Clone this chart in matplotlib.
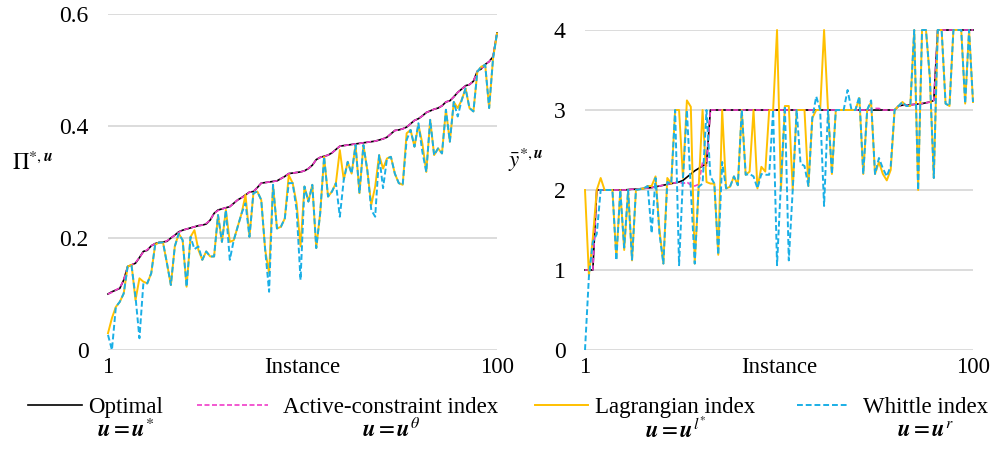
#!/usr/bin/env python3
# -*- coding: utf-8 -*-
"""
Performance of index policies vs optimal over 100 instances (two panels).
"""

import matplotlib
matplotlib.use("Agg")
import matplotlib.pyplot as plt
from matplotlib.lines import Line2D


# Instances 1..100
INSTANCES = list(range(1, 101))

# Left panel: Pi^{*,u}
OPT_PI = [
    0.100, 0.104, 0.107, 0.110, 0.125, 0.149, 0.152, 0.155, 0.165, 0.176,
    0.178, 0.186, 0.190, 0.192, 0.193, 0.194, 0.200, 0.205, 0.211, 0.214,
    0.216, 0.218, 0.220, 0.222, 0.223, 0.225, 0.232, 0.244, 0.250, 0.252,
    0.254, 0.256, 0.262, 0.268, 0.272, 0.277, 0.282, 0.283, 0.290, 0.298,
    0.299, 0.300, 0.301, 0.302, 0.306, 0.310, 0.315, 0.316, 0.317, 0.318,
    0.320, 0.324, 0.330, 0.340, 0.344, 0.346, 0.348, 0.352, 0.358, 0.364,
    0.365, 0.366, 0.367, 0.368, 0.369, 0.370, 0.371, 0.372, 0.373, 0.375,
    0.377, 0.380, 0.386, 0.392, 0.393, 0.395, 0.398, 0.404, 0.410, 0.413,
    0.418, 0.424, 0.427, 0.430, 0.432, 0.436, 0.443, 0.445, 0.452, 0.460,
    0.466, 0.472, 0.474, 0.480, 0.498, 0.502, 0.510, 0.515, 0.524, 0.566,
]
ACT_PI = [
    0.100, 0.103, 0.107, 0.111, 0.125, 0.148, 0.152, 0.156, 0.165, 0.175,
    0.179, 0.186, 0.190, 0.192, 0.192, 0.195, 0.200, 0.205, 0.210, 0.214,
    0.216, 0.218, 0.220, 0.222, 0.223, 0.226, 0.232, 0.244, 0.249, 0.252,
    0.254, 0.256, 0.262, 0.268, 0.272, 0.276, 0.282, 0.283, 0.290, 0.298,
    0.299, 0.300, 0.301, 0.302, 0.306, 0.310, 0.315, 0.316, 0.317, 0.318,
    0.320, 0.324, 0.330, 0.340, 0.344, 0.346, 0.348, 0.352, 0.358, 0.364,
    0.365, 0.366, 0.367, 0.368, 0.369, 0.370, 0.371, 0.372, 0.373, 0.375,
    0.377, 0.380, 0.386, 0.392, 0.393, 0.395, 0.398, 0.404, 0.410, 0.413,
    0.418, 0.424, 0.427, 0.430, 0.432, 0.436, 0.443, 0.445, 0.452, 0.460,
    0.466, 0.472, 0.474, 0.480, 0.498, 0.502, 0.510, 0.515, 0.524, 0.566,
]
LAG_PI = [
    0.030, 0.057, 0.077, 0.086, 0.101, 0.149, 0.152, 0.089, 0.128, 0.122,
    0.119, 0.137, 0.188, 0.192, 0.192, 0.155, 0.116, 0.185, 0.208, 0.196,
    0.113, 0.202, 0.214, 0.179, 0.161, 0.176, 0.167, 0.167, 0.241, 0.193,
    0.250, 0.193, 0.196, 0.220, 0.244, 0.277, 0.202, 0.280, 0.283, 0.268,
    0.179, 0.137, 0.295, 0.217, 0.220, 0.235, 0.312, 0.298, 0.262, 0.185,
    0.292, 0.265, 0.295, 0.182, 0.244, 0.345, 0.274, 0.283, 0.298, 0.357,
    0.304, 0.336, 0.315, 0.366, 0.280, 0.366, 0.321, 0.259, 0.292, 0.348,
    0.324, 0.342, 0.345, 0.315, 0.298, 0.295, 0.387, 0.393, 0.363, 0.402,
    0.369, 0.318, 0.411, 0.348, 0.360, 0.351, 0.429, 0.372, 0.443, 0.432,
    0.446, 0.467, 0.432, 0.426, 0.497, 0.506, 0.509, 0.432, 0.521, 0.565,
]
WHI_PI = [
    0.027, 0.000, 0.077, 0.086, 0.101, 0.149, 0.150, 0.095, 0.021, 0.119,
    0.119, 0.137, 0.188, 0.192, 0.192, 0.155, 0.116, 0.185, 0.208, 0.196,
    0.113, 0.202, 0.180, 0.185, 0.161, 0.176, 0.167, 0.167, 0.241, 0.193,
    0.250, 0.161, 0.196, 0.220, 0.244, 0.262, 0.202, 0.280, 0.283, 0.268,
    0.179, 0.104, 0.295, 0.217, 0.220, 0.235, 0.298, 0.298, 0.250, 0.125,
    0.292, 0.265, 0.295, 0.182, 0.244, 0.345, 0.274, 0.283, 0.298, 0.238,
    0.304, 0.336, 0.315, 0.366, 0.280, 0.366, 0.321, 0.250, 0.238, 0.348,
    0.289, 0.342, 0.345, 0.315, 0.298, 0.295, 0.375, 0.393, 0.363, 0.405,
    0.354, 0.318, 0.411, 0.348, 0.360, 0.351, 0.429, 0.372, 0.443, 0.417,
    0.446, 0.467, 0.432, 0.426, 0.497, 0.506, 0.509, 0.432, 0.521, 0.565,
]

# Right panel: y-bar^{*,u}
OPT_Y = [
    1.00, 1.00, 1.00, 2.00, 2.00, 2.00, 2.00, 2.00, 2.00, 2.00,
    2.00, 2.005, 2.01, 2.01, 2.015, 2.02, 2.025, 2.03, 2.04, 2.05,
    2.06, 2.07, 2.08, 2.09, 2.10, 2.12, 2.16, 2.20, 2.24, 2.27,
    2.30, 2.33, 3.00, 3.00, 3.00, 3.00, 3.00, 3.00, 3.00, 3.00,
    3.00, 3.00, 3.00, 3.00, 3.00, 3.00, 3.00, 3.00, 3.00, 3.00,
    3.00, 3.00, 3.00, 3.00, 3.00, 3.00, 3.00, 3.00, 3.00, 3.00,
    3.00, 3.00, 3.00, 3.00, 3.00, 3.00, 3.00, 3.00, 3.00, 3.00,
    3.00, 3.00, 3.00, 3.00, 3.00, 3.00, 3.00, 3.00, 3.00, 3.00,
    3.05, 3.06, 3.06, 3.065, 3.07, 3.075, 3.08, 3.09, 3.10, 3.12,
    4.00, 4.00, 4.00, 4.00, 4.00, 4.00, 4.00, 4.00, 4.00, 4.00,
]
ACT_Y = [
    1.00, 1.00, 1.00, 2.00, 2.00, 2.00, 2.00, 2.00, 2.00, 2.00,
    2.00, 2.005, 2.01, 2.01, 2.015, 2.02, 2.025, 2.03, 2.04, 2.05,
    2.06, 2.07, 2.08, 2.09, 2.10, 2.08, 2.10, 2.06, 2.05, 2.07,
    2.35, 2.30, 3.00, 3.00, 3.00, 3.00, 3.00, 3.00, 3.00, 3.00,
    3.00, 3.00, 3.00, 3.00, 3.00, 3.00, 3.00, 3.00, 3.00, 3.00,
    3.00, 3.00, 3.00, 3.00, 3.00, 3.00, 3.00, 3.00, 3.00, 3.00,
    3.00, 3.00, 3.00, 3.00, 3.00, 3.00, 3.00, 3.00, 3.00, 3.00,
    3.00, 3.00, 3.00, 3.00, 3.02, 3.02, 3.00, 3.00, 3.00, 3.00,
    3.05, 3.06, 3.06, 3.065, 3.07, 3.075, 3.08, 3.09, 3.10, 3.12,
    4.00, 4.00, 4.00, 4.00, 4.00, 4.00, 4.00, 4.00, 4.00, 4.00,
]
LAG_Y = [
    2.00, 0.93, 1.40, 2.00, 2.15, 2.00, 2.00, 2.00, 1.15, 2.00,
    1.25, 2.00, 1.12, 2.00, 2.01, 2.02, 2.05, 2.05, 2.17, 1.50,
    1.08, 2.15, 2.08, 3.00, 3.00, 2.15, 3.12, 3.04, 1.08, 2.04,
    3.00, 2.10, 2.08, 2.08, 1.19, 3.00, 2.02, 2.04, 2.17, 2.06,
    3.00, 2.19, 2.23, 3.00, 2.02, 2.29, 2.23, 3.00, 3.00, 4.00,
    2.00, 3.05, 3.05, 2.00, 3.00, 3.00, 3.00, 2.05, 2.90, 3.00,
    3.00, 4.00, 3.00, 2.20, 3.00, 3.00, 3.00, 3.00, 3.00, 3.00,
    3.15, 2.20, 3.00, 3.10, 2.20, 2.35, 2.20, 2.12, 2.25, 3.00,
    3.05, 3.10, 3.05, 3.05, 4.00, 2.00, 4.00, 4.00, 3.40, 2.15,
    4.00, 4.00, 3.08, 3.05, 4.00, 4.00, 4.00, 3.08, 4.00, 3.10,
]
WHI_Y = [
    0.00, 0.92, 1.35, 1.45, 2.00, 2.00, 2.00, 2.00, 1.12, 2.00,
    1.28, 2.00, 1.13, 2.00, 2.01, 2.02, 2.05, 1.46, 2.15, 1.45,
    1.08, 2.10, 2.08, 3.00, 1.06, 2.15, 3.00, 2.00, 1.08, 2.04,
    2.08, 3.00, 2.17, 2.08, 1.19, 2.35, 2.02, 2.04, 2.17, 2.06,
    3.00, 2.19, 2.20, 2.17, 2.02, 2.20, 2.19, 2.19, 3.00, 1.06,
    2.10, 3.05, 1.12, 2.00, 3.00, 2.33, 2.30, 2.05, 2.90, 3.17,
    3.00, 1.80, 3.00, 2.20, 3.00, 3.00, 3.00, 3.25, 3.00, 3.00,
    3.17, 2.20, 3.00, 3.12, 2.20, 2.40, 2.27, 2.17, 2.30, 3.00,
    3.05, 3.10, 3.05, 3.05, 4.00, 2.00, 4.00, 4.00, 3.40, 2.15,
    4.00, 4.00, 3.08, 3.05, 4.00, 4.00, 4.00, 3.08, 4.00, 3.10,
]

NAMES = ["Optimal", "Active-constraint index", "Lagrangian index", "Whittle index"]
FORMULAS = [
    "$\\mathbfit{u}=\\mathbfit{u}^{*}$",
    "$\\mathbfit{u}=\\mathbfit{u}^{\\theta}$",
    "$\\mathbfit{u}=\\mathbfit{u}^{l^{*}}$",
    "$\\mathbfit{u}=\\mathbfit{u}^{r}$",
]

COLORS = ["black", "#F03CC8", "#FFC000", "#1AAFE6"]
DASHED = [False, True, False, True]
WIDTHS = [1.2, 1.2, 1.4, 1.4]

# legend layout in pixels: (handle start, handle end, text start)
LEGEND_SLOTS = [(28, 82, 88), (197, 268, 283), (535, 588, 595), (797, 848, 863)]

FS = 16.5


def style_axes(ax, ylim, yticks, ylabels):
    ax.set_xlim(1, 100)
    ax.set_ylim(*ylim)
    ax.set_yticks(yticks)
    ax.set_yticklabels(ylabels)
    ax.set_xticks([1, 50.5, 100])
    ax.set_xticklabels(["1", "Instance", "100"])
    for sp in ax.spines.values():
        sp.set_visible(False)
    ax.yaxis.grid(True, color="#d9d9d9", linewidth=1.3)
    ax.set_axisbelow(True)
    ax.tick_params(axis="both", length=0, labelsize=FS)
    ax.tick_params(axis="y", pad=14, labelsize=17)
    ax.tick_params(axis="x", pad=5)


def draw_series(ax, *series):
    for ys, color, dashed, lw in zip(series, COLORS, DASHED, WIDTHS):
        kw = dict(color=color, lw=lw, clip_on=False)
        if dashed:
            kw["dashes"] = (3, 1.5)
        ax.plot(INSTANCES, ys, **kw)


def main():
    plt.rcParams["font.family"] = ["Liberation Serif", "DejaVu Serif"]
    plt.rcParams["mathtext.fontset"] = "stix"

    fig = plt.figure(figsize=(9.96, 4.5), dpi=100)
    W, H = 996.0, 450.0

    ax1 = fig.add_axes([108 / W, 1 - 350 / H, 389 / W, 336 / H])
    draw_series(ax1, OPT_PI, ACT_PI, LAG_PI, WHI_PI)
    style_axes(ax1, (0, 0.6), [0, 0.2, 0.4, 0.6], ["0", "0.2", "0.4", "0.6"])

    ax2 = fig.add_axes([585 / W, 1 - 350 / H, 388 / W, 320 / H])
    draw_series(ax2, OPT_Y, ACT_Y, LAG_Y, WHI_Y)
    style_axes(ax2, (0, 4), [0, 1, 2, 3, 4], ["0", "1", "2", "3", "4"])

    fig.text(12 / W, 1 - 163 / H, "$\\Pi^{*,\\mathbfit{u}}$", fontsize=FS,
             va="center", ha="left")
    fig.text(508 / W, 1 - 160 / H, "$\\bar{y}^{*,\\mathbfit{u}}$", fontsize=FS,
             va="center", ha="left")

    # legend drawn by hand: handle + name on one line, formula centred below
    fig.canvas.draw()
    y1 = 1 - 405 / H
    for i, (x0, x1, tx) in enumerate(LEGEND_SLOTS):
        kw = dict(color=COLORS[i], lw=WIDTHS[i])
        if DASHED[i]:
            kw["dashes"] = (3, 1.5)
        fig.add_artist(Line2D([x0 / W, x1 / W], [y1, y1],
                              transform=fig.transFigure, **kw))
        t = fig.text(tx / W, y1, NAMES[i], fontsize=FS, ha="left",
                     va="center_baseline")
        bb = t.get_window_extent(renderer=fig.canvas.get_renderer())
        cx = (bb.x0 + bb.x1) / 2.0
        fig.text(cx / W, 1 - 430 / H, FORMULAS[i], fontsize=FS,
                 ha="center", va="center")

    fig.savefig("out.png", dpi=100)
    plt.close(fig)


if __name__ == "__main__":
    main()
